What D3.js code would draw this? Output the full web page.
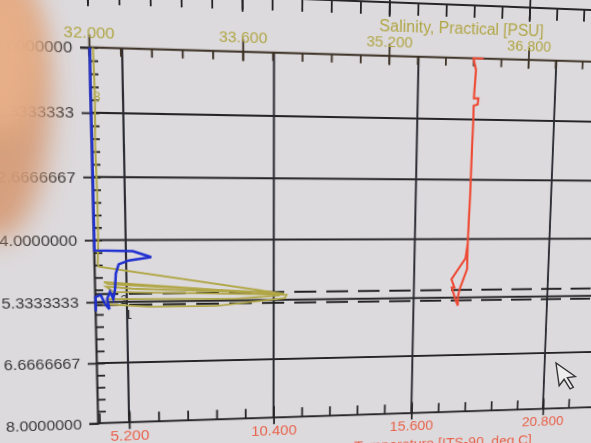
<!DOCTYPE html>
<html>
<head>
<meta charset="utf-8">
<script src="https://cdn.jsdelivr.net/npm/d3@7"></script>
<style>
  body { margin: 0; background: #dddadd; overflow: hidden; width: 591px; height: 443px; position: relative; }
  svg { display: block; position: absolute; left: 0; top: 0; }
  #chart { transform-origin: 0 0; z-index: 1; }
  #front { z-index: 2; will-change: transform; }
</style>
</head>
<body>
<script>
// pressure axis (left), values go down
const pressureTicks = [0, 1.3333333, 2.6666667, 4, 5.3333333, 6.6666667, 8];
const pressureLabels = ["0.0000000", "1.3333333", "2.6666667", "4.0000000", "5.3333333", "6.6666667", "8.0000000"];

// salinity axis (top)
const salinityTicks = [32.0, 33.6, 35.2, 36.8];
const salinityLabels = ["32.000", "33.600", "35.200", "36.800"];

// temperature axis (bottom)
const temperatureTicks = [5.2, 10.4, 15.6, 20.8];
const temperatureLabels = ["5.200", "10.400", "15.600", "20.800"];

// third axis, mostly off the top of the photo
const upperTicks = [0, 0.1, 0.2, 0.3];
const upperLabels = ["0.000", "0.100", "0.200", "0.300"];

// profiles as [pressure, value]
const temperatureProfile = [
  [0.0, 18.02], [0.0, 17.64], [0.25, 17.75], [0.6, 17.72], [0.87, 17.7], [0.87, 17.87],
  [1.0, 17.85], [1.03, 17.7], [1.33, 17.7], [2.0, 17.68], [3.0, 17.66], [4.0, 17.62],
  [4.68, 17.62], [5.15, 17.35], [5.3, 17.3], [5.52, 17.3], [5.38, 17.2], [5.1, 17.05],
  [5.1, 17.15], [4.91, 17.03], [4.44, 17.55], [4.09, 17.62]
];
const salinityProfile = [
  [0.0, 32.04], [1.0, 32.05], [2.0, 32.04], [3.0, 32.05], [4.0, 32.05], [4.5, 32.04],
  [4.57, 32.05], [5.2, 34.05], [5.14, 33.6], [4.9, 32.1], [4.95, 32.15], [5.18, 34.0],
  [5.05, 32.4], [5.0, 32.12], [5.12, 32.2], [5.22, 34.08], [5.3, 34.06], [5.45, 33.3],
  [5.45, 32.6], [5.38, 32.1], [5.27, 32.15], [5.3, 33.5], [5.24, 34.0]
];
const blueProfile = [
  [0.0, 0.0005], [1.0, 0.0003], [2.0, 0.0005], [3.0, 0.0005], [4.22, 0.0005], [4.24, 0.0257],
  [4.37, 0.0378], [4.44, 0.023], [4.52, 0.0162], [4.72, 0.0142], [5.05, 0.0135], [5.27, 0.0122],
  [5.11, 0.0101], [5.27, 0.0081], [5.49, 0.0095], [5.38, 0.0068], [5.18, 0.004], [5.22, 0.0005],
  [5.53, 0.0005]
];

// dashed marker lines and their labels
const markerDepths = [5.16, 5.40];
const markerLabels = ["2", "1"];

// where four grid crossings sit in the photo (5.2/1.333, 20.8/1.333, 5.2/6.667, 20.8/6.667)
const photoCorners = [[123.3, 113.3], [554, 121], [128, 362.5], [545, 353]];

function homography(src, dst) {
  const A = [], B = [];
  for (let i = 0; i < 4; i++) {
    const [x, y] = src[i], [X, Y] = dst[i];
    A.push([x, y, 1, 0, 0, 0, -x * X, -y * X]); B.push(X);
    A.push([0, 0, 0, x, y, 1, -x * Y, -y * Y]); B.push(Y);
  }
  for (let c = 0; c < 8; c++) {
    let p = c;
    for (let r = c + 1; r < 8; r++) if (Math.abs(A[r][c]) > Math.abs(A[p][c])) p = r;
    [A[c], A[p]] = [A[p], A[c]]; [B[c], B[p]] = [B[p], B[c]];
    for (let r = 0; r < 8; r++) {
      if (r === c) continue;
      const f = A[r][c] / A[c][c];
      for (let k = c; k < 8; k++) A[r][k] -= f * A[c][k];
      B[r] -= f * B[c];
    }
  }
  return B.map((b, i) => b / A[i][i]);
}

document.addEventListener("DOMContentLoaded", function () {
  const width = 660, height = 520;
  const svg = d3.select("body").append("svg")
      .attr("id", "chart")
      .attr("width", width)
      .attr("height", height);

  const left = 95, right = 625;

  // flat drawing, later bent into the photo's perspective
  const y = d3.scaleLinear().domain([0, 8]).range([83.75, 451.25]);
  const xT = d3.scaleLinear().domain([4.1, 23.556]).range([left, right]);
  const xS = d3.scaleLinear().domain([32, 32 + 530 / 88.65]).range([left, right]);
  const xB = d3.scaleLinear().domain([0, 530 / 1418.5]).range([left, right]);
  const plotTop = y(0), plotBottom = y(8);

  const ink = "#252525";
  const olive = "#b0a646";
  const orange = "#e8624a";
  const font = "Liberation Sans, Arial, sans-serif";

  // grid
  svg.append("g").selectAll("line")
    .data(pressureTicks.slice(1, -1))
    .join("line")
      .attr("x1", left).attr("x2", width)
      .attr("y1", p => y(p)).attr("y2", p => y(p))
      .attr("stroke", ink).attr("stroke-width", 1.8);

  svg.append("g").selectAll("line")
    .data(temperatureTicks)
    .join("line")
      .attr("x1", t => xT(t)).attr("x2", t => xT(t))
      .attr("y1", plotTop).attr("y2", plotBottom)
      .attr("stroke", "#2b2b33").attr("stroke-width", 2);

  // dashed markers
  svg.append("g").selectAll("line")
    .data(markerDepths)
    .join("line")
      .attr("x1", left).attr("x2", width)
      .attr("y1", p => y(p)).attr("y2", p => y(p))
      .attr("stroke", "#1e1e1e").attr("stroke-width", 2)
      .attr("stroke-dasharray", "22,10");

  svg.append("g").selectAll("text")
    .data(markerDepths)
    .join("text")
      .attr("x", (p, i) => i === 0 ? 119 : 123)
      .attr("y", (p, i) => y(p) + (i === 0 ? 10 : 14))
      .attr("font-family", font).attr("font-size", 12)
      .attr("fill", "#333")
      .text((p, i) => markerLabels[i]);

  function style(sel, color, textColor) {
    sel.selectAll("line").attr("stroke", color).attr("stroke-width", 1.8);
    sel.select(".domain").attr("stroke", color).attr("stroke-width", 2);
    sel.selectAll("text").attr("fill", textColor).attr("font-family", font).attr("font-size", 15);
  }

  // left pressure axis
  svg.append("g")
    .attr("transform", `translate(${left},0)`)
    .call(d3.axisLeft(y).tickValues(pressureTicks)
      .tickFormat((p, i) => pressureLabels[i]).tickSize(8).tickPadding(7))
    .call(sel => style(sel, ink, "#383838"));

  svg.append("g")
    .attr("transform", `translate(${left},0)`)
    .call(d3.axisRight(y).tickValues(d3.range(0, 8, 0.2666667)).tickFormat("").tickSize(8))
    .call(sel => style(sel, ink, ink))
    .call(sel => sel.select(".domain").remove());

  // top salinity axis
  svg.append("g")
    .attr("transform", `translate(0,${plotTop})`)
    .call(d3.axisTop(xS).tickValues(salinityTicks)
      .tickFormat((s, i) => salinityLabels[i]).tickSize(5).tickPadding(4))
    .call(sel => style(sel, "#3d3226", olive))
    .call(sel => sel.selectAll(".tick line").attr("y1", 9).attr("y2", -12))
    .call(sel => sel.select(".domain").attr("d", `M${left},0H${width}`));

  svg.append("g")
    .attr("transform", `translate(0,${plotTop})`)
    .call(d3.axisBottom(xS).tickValues(d3.range(32, 38, 0.32)).tickFormat("").tickSize(8))
    .call(sel => style(sel, "#3d3226", olive))
    .call(sel => sel.select(".domain").remove());

  svg.append("text")
    .attr("x", 452).attr("y", plotTop - 24)
    .attr("text-anchor", "middle")
    .attr("font-family", font)
    .attr("font-size", 16)
    .attr("fill", olive)
    .text("Salinity, Practical [PSU]");

  // bottom temperature axis
  svg.append("g")
    .attr("transform", `translate(0,${plotBottom})`)
    .call(d3.axisBottom(xT).tickValues(temperatureTicks)
      .tickFormat((t, i) => temperatureLabels[i]).tickSize(5).tickPadding(3))
    .call(sel => style(sel, ink, orange))
    .call(sel => sel.selectAll(".tick line").attr("y1", 7).attr("y2", -12))
    .call(sel => sel.select(".domain").attr("d", `M${left},0H${width}`));

  svg.append("g")
    .attr("transform", `translate(0,${plotBottom})`)
    .call(d3.axisTop(xT).tickValues(d3.range(4.16, 24, 1.04)).tickFormat("").tickSize(10))
    .call(sel => style(sel, ink, ink))
    .call(sel => sel.select(".domain").remove());

  svg.append("text")
    .attr("x", 444).attr("y", plotBottom + 39)
    .attr("text-anchor", "middle")
    .attr("font-family", font)
    .attr("font-size", 15)
    .attr("fill", orange)
    .text("Temperature [ITS-90, deg C]");

  // profiles
  const lineS = d3.line().x(p => xS(p[1])).y(p => y(p[0]));
  const lineT = d3.line().x(p => xT(p[1])).y(p => y(p[0]));
  const lineB = d3.line().x(p => xB(p[1])).y(p => y(p[0]));

  svg.append("path").datum(salinityProfile)
    .attr("d", lineS).attr("fill", "none")
    .attr("stroke", olive).attr("stroke-width", 1.8);

  svg.append("text")
    .attr("x", 101).attr("y", y(1.1))
    .attr("text-anchor", "middle")
    .attr("font-family", font).attr("font-size", 12)
    .attr("fill", olive)
    .text("8");

  svg.append("path").datum(blueProfile)
    .attr("d", lineB).attr("fill", "none")
    .attr("stroke", "#1f2fd0").attr("stroke-width", 2.4);

  svg.append("path").datum(temperatureProfile)
    .attr("d", lineT).attr("fill", "none")
    .attr("stroke", "#ee4a34").attr("stroke-width", 2.2);

  // bend the flat chart into the photo's perspective
  const src = [[xT(5.2), y(1.3333333)], [xT(20.8), y(1.3333333)], [xT(5.2), y(6.6666667)], [xT(20.8), y(6.6666667)]];
  const H = homography(src, photoCorners);
  svg.style("transform",
    `matrix3d(${H[0]},${H[3]},0,${H[6]},${H[1]},${H[4]},0,${H[7]},0,0,1,0,${H[2]},${H[5]},0,1)`);
  const project = (u, v) => {
    const w = H[6] * u + H[7] * v + 1;
    return [(H[0] * u + H[1] * v + H[2]) / w, (H[3] * u + H[4] * v + H[5]) / w];
  };

  // front layer, drawn straight in photo pixels
  const over = d3.select("body").append("svg")
      .attr("id", "front")
      .attr("width", 591).attr("height", 443);

  // topmost axis, cut by the photo edge; projected by hand
  const axisV = plotTop - 52;
  function tick(u, v1, v2, w) {
    const p1 = project(u, v1), p2 = project(u, v2);
    over.append("line")
      .attr("x1", p1[0]).attr("y1", p1[1]).attr("x2", p2[0]).attr("y2", p2[1])
      .attr("stroke", "#262626").attr("stroke-width", w);
  }
  const e1 = project(0, axisV), e2 = project(width, axisV);
  over.append("line")
    .attr("x1", e1[0]).attr("y1", e1[1]).attr("x2", e2[0]).attr("y2", e2[1])
    .attr("stroke", "#262626").attr("stroke-width", 2);
  d3.range(0, 0.37, 0.02).forEach(t => tick(xB(t), axisV, axisV + 12, 1.8));
  upperTicks.forEach((t, i) => {
    tick(xB(t), axisV - 9, axisV + 14, 1.8);
    const p = project(xB(t), axisV - 8), q = project(xB(t) + 10, axisV - 8);
    over.append("text")
      .attr("transform", `translate(${p[0]},${p[1]}) rotate(${Math.atan2(q[1] - p[1], q[0] - p[0]) * 180 / Math.PI})`)
      .attr("text-anchor", "middle")
      .attr("font-family", font).attr("font-size", 15)
      .attr("fill", "#a8a36a")
      .text(upperLabels[i]);
  });

  // mouse pointer
  over.append("path")
    .attr("transform", "translate(556,363) rotate(-8) scale(1.15)")
    .attr("d", "M0,0 L0,20 L5,15 L9,24 L12,23 L8,14 L15,14 Z")
    .attr("fill", "#eeeeee").attr("stroke", "#333").attr("stroke-width", 1.2);

  // finger over the lens
  const defs = over.append("defs");
  defs.append("filter").attr("id", "blur")
    .attr("x", "-100%").attr("y", "-100%").attr("width", "300%").attr("height", "300%")
    .append("feGaussianBlur").attr("stdDeviation", 14);

  over.append("ellipse")
    .attr("cx", -4).attr("cy", 105).attr("rx", 54).attr("ry", 135)
    .attr("fill", "#d59c78").attr("opacity", 0.95)
    .attr("filter", "url(#blur)");
  over.append("ellipse")
    .attr("cx", 4).attr("cy", 55).attr("rx", 36).attr("ry", 80)
    .attr("fill", "#e8b088").attr("opacity", 0.9)
    .attr("filter", "url(#blur)");
});
</script>
</body>
</html>
